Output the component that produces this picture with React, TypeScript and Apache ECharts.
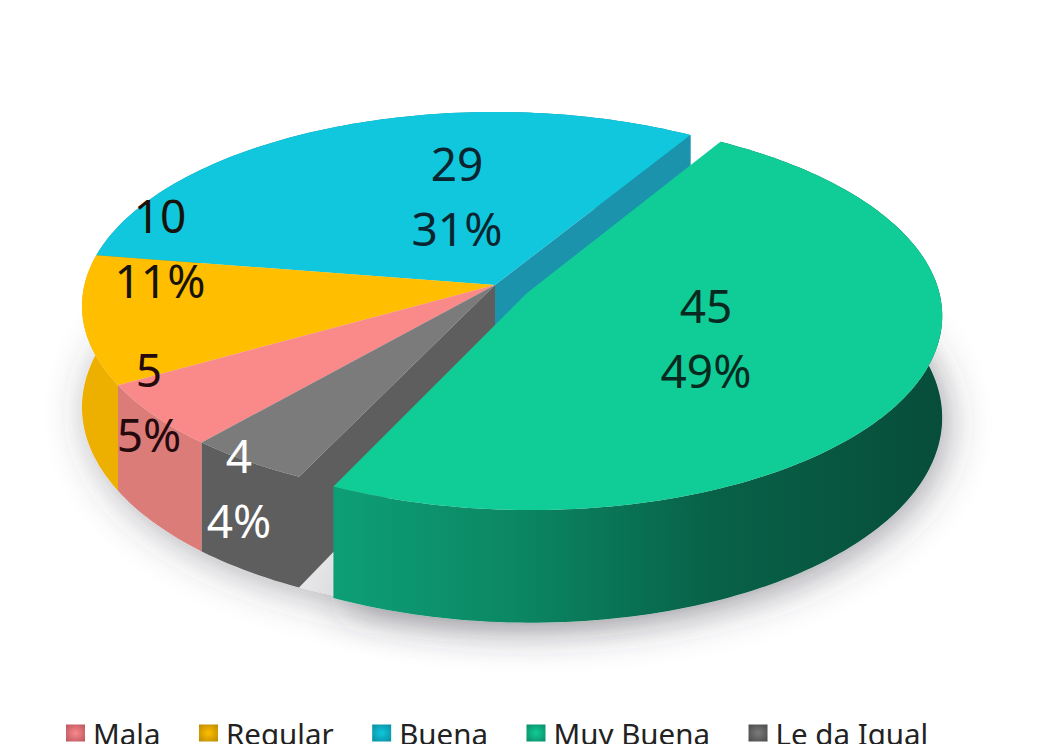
import React, { useEffect, useRef } from "react";
import * as echarts from "echarts";

const categories = ["Mala", "Regular", "Buena", "Muy Buena", "Le da Igual"];
const values = [5, 10, 29, 45, 4];
const percentLabels = ["5%", "11%", "31%", "49%", "4%"];
const valueLabels = ["5", "10", "29", "45", "4"];

const topColors = ["#FA8A8A", "#FFBE00", "#10C7DD", "#10CC96", "#7B7B7B"];
const wallColors = ["#DB7C79", "#EDB000", "#1B93AC", "#0B8A64", "#5E5E5E"];
const textColors = ["#24090D", "#17130A", "#0A2530", "#08291F", "#FFFFFF"];
const legendEdge = ["#B9545E", "#B98A00", "#0A8CA0", "#0A8A66", "#4A4A4A"];
const labelAnchors = [[149, 401], [160, 247], [457, 195], [706, 337], [239, 487]];
const drawOrder = [2, 1, 0, 4, 3];
const explodedIndex = 3;

const FONT = '"Noto Sans", sans-serif';
const START_ANGLE = -139;
const CX = 495, CY = 285, AX = 410.6, BY = 191.7, K = 0.108, DEPTH = 100, EXPLODE = 0.088;
const rad = (d: number) => (d * Math.PI) / 180;
const total = values.reduce((s, v) => s + v, 0);

function sliceAngles(i: number) {
  let a = START_ANGLE;
  for (let j = 0; j < i; j++) a += (values[j] / total) * 360;
  return [a, a + (values[i] / total) * 360];
}

function offsetOf(i: number) {
  if (i !== explodedIndex) return [0, 0];
  const [a0, a1] = sliceAngles(i);
  const m = rad((a0 + a1) / 2);
  return [EXPLODE * Math.sin(m), -EXPLODE * Math.cos(m)];
}

function project(u: number, v: number, h: number) {
  const w = 1 - K * v;
  return [CX + (AX * u) / w, CY + (BY * v) / w + h / w];
}

function rim(i: number, h: number) {
  const [a0, a1] = sliceAngles(i);
  const [ou, ov] = offsetOf(i);
  const n = Math.max(4, Math.ceil((a1 - a0) / 1.2));
  const pts: number[][] = [];
  for (let s = 0; s <= n; s++) {
    const t = rad(a0 + ((a1 - a0) * s) / n);
    pts.push(project(ou + Math.sin(t), ov - Math.cos(t), h));
  }
  return pts;
}

const greenWall = {
  type: "linear", x: 0, y: 0, x2: 1, y2: 0,
  colorStops: [
    { offset: 0, color: "#0D9F76" },
    { offset: 0.3, color: "#0B8763" },
    { offset: 0.62, color: "#086248" },
    { offset: 1, color: "#074D3A" },
  ],
};

function sliceRenderer(i: number) {
  return () => {
    const [ou, ov] = offsetOf(i);
    const top = rim(i, 0);
    const bottom = rim(i, DEPTH);
    const apexTop = project(ou, ov, 0);
    const apexBottom = project(ou, ov, DEPTH);
    const children: any[] = [];
    const wallFill = i === explodedIndex ? greenWall : wallColors[i];
    if (i === 2) {
      children.push({
        type: "polygon",
        shape: { points: [apexTop, top[top.length - 1], bottom[bottom.length - 1], apexBottom] },
        style: { fill: wallColors[i] },
      });
    }
    if (i === 4) {
      children.push({
        type: "polygon",
        shape: { points: [apexTop, top[0], bottom[0], apexBottom] },
        style: { fill: wallColors[i] },
      });
    }
    children.push({
      type: "polygon",
      shape: { points: [...top, ...bottom.slice().reverse()] },
      style: { fill: wallFill },
    });
    children.push({
      type: "polygon",
      shape: { points: [apexTop, ...top] },
      style: { fill: topColors[i] },
    });
    const [lx, ly] = labelAnchors[i];
    [[valueLabels[i], -32.5], [percentLabels[i], 32.5]].forEach(([t, dy]) => {
      children.push({
        type: "text",
        style: {
          x: lx, y: ly + (dy as number), text: t, fill: textColors[i],
          font: `46px ${FONT}`, align: "center", verticalAlign: "middle",
        },
      });
    });
    return { type: "group", children };
  };
}

function shadowRenderer() {
  const fullBottom: number[][] = [];
  for (let s = 0; s <= 240; s++) {
    const t = rad(s * 1.5);
    fullBottom.push(project(Math.sin(t), -Math.cos(t), DEPTH));
  }
  const [ou, ov] = offsetOf(explodedIndex);
  const shadow = { shadowBlur: 40, shadowColor: "rgba(60,60,70,0.42)", shadowOffsetX: 6, shadowOffsetY: 6, fill: "#e6e6e8" };
  return {
    type: "group",
    children: [
      { type: "polygon", shape: { points: fullBottom }, style: shadow },
      { type: "polygon", shape: { points: [project(ou, ov, DEPTH), ...rim(explodedIndex, DEPTH)] }, style: shadow },
    ],
  };
}

export default function App() {
  const ref = useRef<HTMLDivElement>(null);
  useEffect(() => {
    if (!ref.current) return;
    const chart = echarts.init(ref.current, undefined, { renderer: "svg" });
    chart.setOption({
      animation: false,
      backgroundColor: "#ffffff",
      legend: {
        left: 66,
        top: 718,
        itemWidth: 19,
        itemHeight: 17,
        itemGap: 38.5,
        icon: "rect",
        padding: 0,
        selectedMode: false,
        textStyle: { fontFamily: FONT, fontSize: 29.5, color: "#222222", padding: [0, 0, 0, 3] },
        data: categories.map((name, i) => ({
          name,
          itemStyle: {
            color: {
              type: "radial", x: 0.5, y: 0.5, r: 0.7,
              colorStops: [
                { offset: 0, color: topColors[i] },
                { offset: 1, color: legendEdge[i] },
              ],
            },
          },
        })),
      },
      series: [
        {
          type: "custom", coordinateSystem: "none", name: "sombra", silent: true, z: 1,
          renderItem: shadowRenderer, data: [0],
        },
        ...categories.map((name, i) => ({
          type: "custom",
          coordinateSystem: "none",
          name,
          silent: true,
          z: 2 + drawOrder.indexOf(i),
          itemStyle: { color: topColors[i] },
          renderItem: sliceRenderer(i),
          data: [values[i]],
        })),
      ],
    });
    return () => chart.dispose();
  }, []);
  return <div ref={ref} style={{ position: "fixed", left: 0, top: 0, width: 1055, height: 744 }} />;
}
